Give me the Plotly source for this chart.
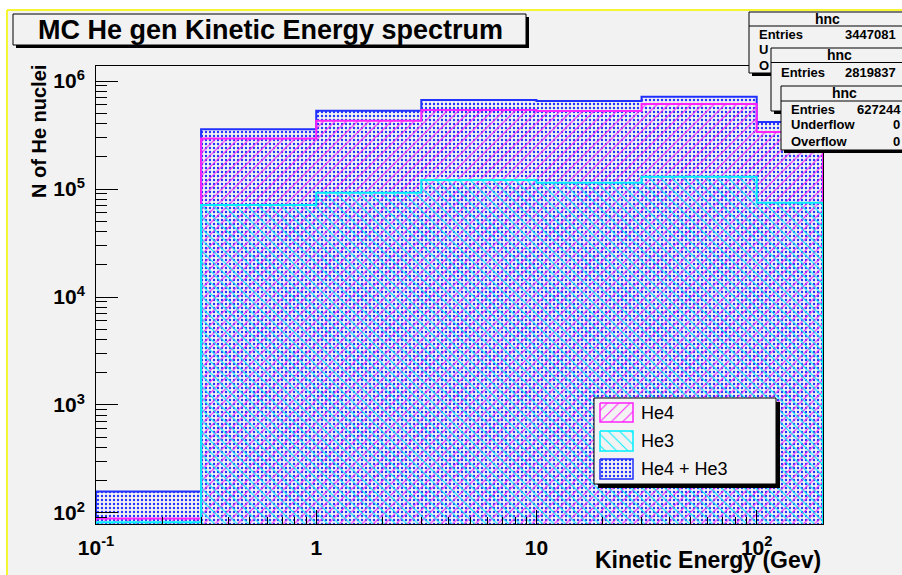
import math
import plotly.graph_objects as go

# ---------------- data ----------------
bin_edges = [0.1, 0.3, 1, 3, 10, 30, 100, 200]
he4_counts = [89, 294000, 429000, 538000, 527000, 612000, 337000]
he3_counts = [82, 71000, 92500, 121000, 114000, 130000, 74600]
total_counts = [158, 357000, 531000, 667000, 653000, 716000, 417000]
series_names = ["He4", "He3", "He4 + He3"]
stat_entries = [3447081, 2819837, 627244]
x_tickvals = [0.1, 1, 10, 100]
x_ticktext = ["10<sup>-1</sup>", "1", "10", "10<sup>2</sup>"]
y_tickvals = [1e2, 1e3, 1e4, 1e5, 1e6]
y_ticktext = ["10<sup>2</sup>", "10<sup>3</sup>", "10<sup>4</sup>", "10<sup>5</sup>", "10<sup>6</sup>"]
x_minor = [m * 10 ** k for k in range(-1, 3) for m in range(2, 10)]
y_minor = [m * 10 ** k for k in range(1, 7) for m in range(2, 10)]

# ---------------- layout helpers ----------------
W, H = 902, 575
PL, PR, PT, PB = 96, 823, 66, 524   # plot area in pixels
BG = "#f2f2f2"
FONT = "Liberation Sans, Arial, Helvetica, sans-serif"
C_TOT, C_HE4, C_HE3 = "#2030ff", "#ff22ff", "#00f0ff"


def px(x):
    return x / W


def py(y):
    return 1 - y / H


def steps(edges, vals, base=1.0):
    xs, ys = [edges[0]], [base]
    for i, v in enumerate(vals):
        xs += [edges[i], edges[i + 1]]
        ys += [v, v]
    xs.append(edges[-1])
    ys.append(base)
    return xs, ys


def rect(x0, y0, x1, y1):
    return [x0, x1, x1, x0, x0], [y0, y0, y1, y1, y0]


fig = go.Figure()

PAT_TOT = (C_TOT, ".", 4, 0.28)
PAT_HE4 = (C_HE4, "/", 8, 0.13)
PAT_HE3 = (C_HE3, "\\", 8, 0.13)

for vals, (color, shape, size, sol) in [(total_counts, PAT_TOT), (he4_counts, PAT_HE4),
                                        (he3_counts, PAT_HE3)]:
    xs, ys = steps(bin_edges, vals)
    fig.add_trace(go.Scatter(
        x=xs, y=ys, mode="lines", fill="toself",
        fillcolor="rgba(0,0,0,0)",
        fillpattern=dict(shape=shape, fgcolor=color, bgcolor="rgba(0,0,0,0)",
                         size=size, solidity=sol, fillmode="replace"),
        line=dict(color=color, width=2),
        hoverinfo="skip", showlegend=False,
    ))

# ---------------- legend box (overlay subplot in pixel units) ----------------
LX0, LY0, LX1, LY1 = 594, 398, 776, 484
xs, ys = rect(LX0 + 4, LY0 + 4, LX1 + 4, LY1 + 4)
fig.add_trace(go.Scatter(x=xs, y=ys, xaxis="x2", yaxis="y2", mode="lines",
                         fill="toself", fillcolor="black", line=dict(color="black", width=0),
                         hoverinfo="skip", showlegend=False))
xs, ys = rect(LX0, LY0, LX1, LY1)
fig.add_trace(go.Scatter(x=xs, y=ys, xaxis="x2", yaxis="y2", mode="lines",
                         fill="toself", fillcolor=BG, line=dict(color="black", width=1),
                         hoverinfo="skip", showlegend=False))
swatch_rows = [(403, 422), (431, 451), (459, 479)]
legend_styles = [PAT_HE4, PAT_HE3, PAT_TOT]
for (y0, y1), (color, shape, size, sol) in zip(swatch_rows, legend_styles):
    xs, ys = rect(600, y0, 633, y1)
    fig.add_trace(go.Scatter(
        x=xs, y=ys, xaxis="x2", yaxis="y2", mode="lines", fill="toself",
        fillcolor="rgba(0,0,0,0)",
        fillpattern=dict(shape=shape, fgcolor=color, bgcolor="rgba(0,0,0,0)",
                         size=size, solidity=sol, fillmode="replace"),
        line=dict(color=color, width=1.5), hoverinfo="skip", showlegend=False))

annotations = []
for (y0, y1), name in zip(swatch_rows, series_names):
    annotations.append(dict(x=px(639), y=py((y0 + y1) / 2), xref="paper", yref="paper",
                            text=name, showarrow=False, xanchor="left", yanchor="middle",
                            font=dict(family=FONT, size=18, color="black")))

# ---------------- shapes: canvas, frame, title & stat boxes ----------------
shapes = [
    dict(type="rect", xref="paper", yref="paper", x0=px(7), x1=px(902), y0=py(10), y1=py(575),
         fillcolor=BG, line=dict(width=0), layer="below"),
    dict(type="line", xref="paper", yref="paper", x0=px(7), x1=px(902), y0=py(10), y1=py(10),
         line=dict(color="#f5f531", width=2), layer="above"),
    dict(type="line", xref="paper", yref="paper", x0=px(7), x1=px(7), y0=py(10), y1=py(575),
         line=dict(color="#f5f531", width=2), layer="above"),
]


def box(x0, y0, x1, y1, shadow=3):
    return [
        dict(type="rect", xref="paper", yref="paper", x0=px(x0 + shadow), x1=px(x1 + shadow),
             y0=py(y0 + shadow), y1=py(y1 + shadow), fillcolor="black", line=dict(width=0),
             layer="above"),
        dict(type="rect", xref="paper", yref="paper", x0=px(x0), x1=px(x1), y0=py(y0), y1=py(y1),
             fillcolor=BG, line=dict(color="black", width=1), layer="above"),
    ]


# title box
shapes += box(13, 14, 526, 45)
annotations.append(dict(x=px(270), y=py(30), xref="paper", yref="paper",
                        text="MC He gen Kinetic Energy spectrum", showarrow=False,
                        xanchor="center", yanchor="middle",
                        font=dict(family=FONT, size=27, color="black", weight="bold")))

# stat boxes (three overlapping "hnc" boxes)
stat_boxes = [
    (749, 12, 73, 19, 26, [35, 50, 66], 827),
    (771, 48, 111, 55, 62.5, [72, 87, 103], 839),
    (781, 86, 150, 93, 101, [109, 125, 141], 844),
]
SFONT = dict(family=FONT, size=13, color="black", weight="bold")
for i, (x0, y0, y1, hy, ly, rows, hx) in enumerate(stat_boxes):
    shapes += box(x0, y0, 906, y1)
    shapes.append(dict(type="line", xref="paper", yref="paper", x0=px(x0), x1=px(906),
                       y0=py(ly), y1=py(ly), line=dict(color="black", width=1), layer="above"))
    annotations.append(dict(x=px(hx), y=py(hy), xref="paper", yref="paper", text="hnc",
                            showarrow=False, xanchor="center", yanchor="middle",
                            font=dict(family=FONT, size=14, color="black", weight="bold")))
    annotations.append(dict(x=px(x0 + 8), y=py(rows[0]), xref="paper", yref="paper",
                            text="Entries", showarrow=False, xanchor="left", yanchor="middle",
                            font=SFONT))
    annotations.append(dict(x=px(898 if i < 2 else 903), y=py(rows[0]), xref="paper",
                            yref="paper", text=str(stat_entries[i]), showarrow=False,
                            xanchor="right", yanchor="middle", font=SFONT))
    if i == 0:
        for r, lab in zip(rows[1:], ["U", "O"]):
            annotations.append(dict(x=px(x0 + 8), y=py(r), xref="paper", yref="paper",
                                    text=lab, showarrow=False, xanchor="left", yanchor="middle",
                                    font=SFONT))
    if i == 2:
        for r, lab in zip(rows[1:], ["Underflow", "Overflow"]):
            annotations.append(dict(x=px(x0 + 8), y=py(r), xref="paper", yref="paper",
                                    text=lab, showarrow=False, xanchor="left", yanchor="middle",
                                    font=SFONT))
            annotations.append(dict(x=px(902), y=py(r), xref="paper", yref="paper",
                                    text="0", showarrow=False, xanchor="right", yanchor="middle",
                                    font=SFONT))

# axis titles
annotations.append(dict(x=px(823), y=py(560), xref="paper", yref="paper",
                        text="Kinetic Energy (Gev)", showarrow=False, xanchor="right",
                        yanchor="middle",
                        font=dict(family=FONT, size=23, color="black", weight="bold")))
annotations.append(dict(x=px(39), y=py(132), xref="paper", yref="paper",
                        text="N of He nuclei", showarrow=False, textangle=-90,
                        xanchor="center", yanchor="middle",
                        font=dict(family=FONT, size=20, color="black", weight="bold")))

axis_common = dict(showline=True, linecolor="black", linewidth=1, mirror=True,
                   ticks="inside", tickcolor="black", tickwidth=1, showgrid=False,
                   zeroline=False, tickmode="array", automargin=False,
                   tickfont=dict(family=FONT, size=21, color="black", weight="bold"))

fig.update_layout(
    width=W, height=H, autosize=False,
    margin=dict(l=0, r=0, t=0, b=0, pad=0),
    paper_bgcolor="white", plot_bgcolor=BG,
    showlegend=False,
    xaxis=dict(type="log", range=[-1, math.log10(200)], domain=[px(PL), px(PR)],
               tickvals=x_tickvals, ticktext=x_ticktext, ticklen=14,
               ticklabelstandoff=5,
               minor=dict(tickmode="array", tickvals=x_minor, ticks="inside", ticklen=7,
                          tickcolor="black", tickwidth=1, showgrid=False),
               **axis_common),
    yaxis=dict(type="log", range=[1.898, 6.139], domain=[py(PB), py(PT)],
               tickvals=y_tickvals, ticktext=y_ticktext, ticklen=22,
               ticklabelstandoff=6,
               minor=dict(tickmode="array", tickvals=y_minor, ticks="inside", ticklen=11,
                          tickcolor="black", tickwidth=1, showgrid=False),
               **axis_common),
    xaxis2=dict(overlaying="x", anchor="y2", range=[PL, PR], visible=False,
                automargin=False),
    yaxis2=dict(overlaying="y", anchor="x2", range=[PB, PT], visible=False,
                automargin=False),
    shapes=shapes,
    annotations=annotations,
)

fig.write_html("out.html")
